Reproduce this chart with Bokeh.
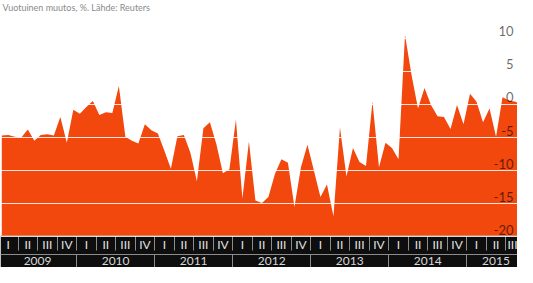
from bokeh.plotting import figure
from bokeh.models import FixedTicker, LinearAxis, Range1d, Grid, ColumnDataSource
from bokeh.core.properties import value
from bokeh.embed import file_html
from bokeh.resources import INLINE

# Monthly values, Jan 2009 .. Sep 2015 (year-on-year change, %)
values = [
    -4.7, -4.6, -4.9, -5.0, -3.8, -5.5, -4.6, -4.5, -4.7, -1.9, -5.8, -0.8,   # 2009
    -1.4, -0.4, 0.5, -1.6, -1.2, -1.3, 2.8, -4.9, -5.5, -5.9, -3.0, -3.9,     # 2010
    -4.4, -7.0, -9.7, -4.8, -4.6, -7.3, -11.6, -3.6, -2.7, -6.0, -10.4, -9.8, # 2011
    -2.3, -14.2, -5.6, -14.5, -14.9, -14.0, -10.5, -8.3, -8.8, -15.5, -9.5, -6.1,  # 2012
    -10.0, -14.0, -12.1, -16.9, -3.5, -10.9, -6.6, -8.7, -9.3, 0.4, -9.5, -5.8,    # 2013
    -6.6, -8.3, 10.5, 4.5, -0.6, 2.5, -0.1, -1.8, -1.9, -3.7, -0.1, -3.0,     # 2014
    1.6, 0.4, -2.7, -0.6, -4.9, 1.1, 0.6, 0.4, -0.1,                          # 2015
]
years = ["2009", "2010", "2011", "2012", "2013", "2014", "2015"]
quarter_names = ["I", "II", "III", "IV"]
y_ticks = [-20, -15, -10, -5, 0, 5, 10]
title_text = "Vuotuinen muutos, %. Lähde: Reuters"

AREA = "#f2470d"
BAND = "#0e0e0e"
FONT = "Lato"

months = [i + 0.5 for i in range(len(values))]          # mid-month positions
n_quarters = (len(values) + 2) // 3
q_bounds = [3.0 * q for q in range(n_quarters + 1)]
q_mid = [3.0 * q + 1.5 for q in range(n_quarters)]
q_over = {3.0 * q + 1.5: quarter_names[q % 4] for q in range(n_quarters)}
last = q_bounds[-1]
y_bounds = [12.0 * k for k in range(len(years) + 1) if 12.0 * k <= last]
y_mid = [(12.0 * k + min(12.0 * k + 12.0, last)) / 2.0 for k in range(len(years))]
y_over = {m: yr for m, yr in zip(y_mid, years)}

x_range = Range1d(0.3, 79.8)
y_range = Range1d(-19.8, 15.7)

p = figure(width=517, height=267, x_range=x_range, y_range=y_range,
           output_backend="svg", toolbar_location=None,
           x_axis_location=None, y_axis_location=None,
           min_border=0, min_border_left=0, min_border_right=0, min_border_top=0,
           border_fill_color=BAND, background_fill_color="white",
           outline_line_color=None)
# drop the default grids
p.center = [r for r in p.center if not isinstance(r, Grid)]

src = ColumnDataSource(dict(x=months, y=values, base=[y_range.start - 5] * len(values)))
p.varea(x="x", y1="base", y2="y", source=src, fill_color=AREA)

grid = Grid(dimension=1, ticker=FixedTicker(ticks=y_ticks), grid_line_color="white",
            grid_line_alpha=0.85, grid_line_width=1, level="overlay")
p.add_layout(grid)

lab = ColumnDataSource(dict(x=[x_range.end] * len(y_ticks), y=y_ticks,
                            t=[str(v) for v in y_ticks]))
p.text(x="x", y="y", text="t", source=lab, text_align="right", text_baseline="bottom",
       x_offset=-4, y_offset=-2, text_font=value(FONT), text_font_size="13px",
       text_color="black", text_alpha=0.6)

p.text(x=[x_range.start], y=[y_range.end], text=[title_text], text_align="left",
       text_baseline="top", x_offset=2, y_offset=1, text_font=value(FONT),
       text_font_size="9px", text_color="#8a8a8a")

qax = LinearAxis(ticker=FixedTicker(ticks=q_mid, minor_ticks=q_bounds),
                 major_label_overrides=q_over,
                 major_tick_in=0, major_tick_out=0,
                 minor_tick_in=0, minor_tick_out=15, minor_tick_line_color="#8c8c8c",
                 axis_line_color=None, major_label_standoff=-14,
                 major_label_text_color="#e2e2e2", major_label_text_font=FONT,
                 major_label_text_font_size="12px")
p.add_layout(qax, "below")

yax = LinearAxis(ticker=FixedTicker(ticks=y_mid, minor_ticks=y_bounds),
                 major_label_overrides=y_over,
                 major_tick_in=0, major_tick_out=0,
                 minor_tick_in=0, minor_tick_out=18, minor_tick_line_color="#8c8c8c",
                 axis_line_color="#8c8c8c", major_label_standoff=-16,
                 major_label_text_color="#d8d8d8", major_label_text_font=FONT,
                 major_label_text_font_size="12px")
p.add_layout(yax, "below")

open("out.html", "w").write(file_html(p, INLINE))
